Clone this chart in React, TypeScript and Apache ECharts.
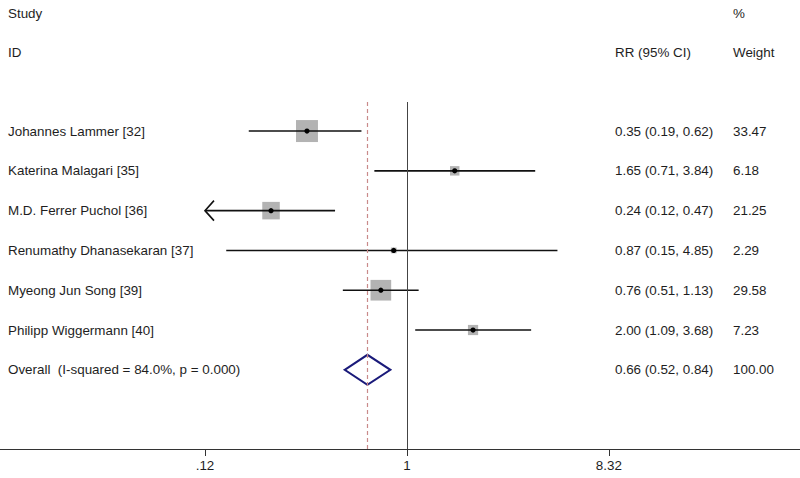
import React, { useEffect, useRef } from "react";
import * as echarts from "echarts";

const studies = [
  "Johannes Lammer [32]",
  "Katerina Malagari [35]",
  "M.D. Ferrer Puchol [36]",
  "Renumathy Dhanasekaran [37]",
  "Myeong Jun Song [39]",
  "Philipp Wiggermann [40]",
];
const rr = [0.35, 1.65, 0.24, 0.87, 0.76, 2.0];
const lower = [0.19, 0.71, 0.12, 0.15, 0.51, 1.09];
const upper = [0.62, 3.84, 0.47, 4.85, 1.13, 3.68];
const weights = [33.47, 6.18, 21.25, 2.29, 29.58, 7.23];

const overallLabel = "Overall  (I-squared = 84.0%, p = 0.000)";
const overallRR = 0.66;
const overallLower = 0.52;
const overallUpper = 0.84;
const overallWeight = 100.0;

const tickValues = [0.12, 1, 8.32];
const tickLabels = [".12", "1", "8.32"];

const FONT = "'Liberation Sans', Arial, sans-serif";
const FS = 13.4;
const TXT = "#1e1e1e";

const fmt = (v: number) => v.toFixed(2);

export default function App() {
  const ref = useRef<HTMLDivElement>(null);
  useEffect(() => {
    document.body.style.margin = "0";
    const chart = echarts.init(ref.current!, null, { renderer: "svg" });
    const ln = Math.log;
    const truncLimit = tickValues[0];

    const rows = studies.map((s, i) => [i, rr[i], lower[i], upper[i], weights[i]]);
    const textRows = [
      ...studies.map((s, i) => ({
        value: [i],
        name: s,
        ci: `${fmt(rr[i])} (${fmt(lower[i])}, ${fmt(upper[i])})`,
        w: fmt(weights[i]),
      })),
      {
        value: [studies.length],
        name: overallLabel,
        ci: `${fmt(overallRR)} (${fmt(overallLower)}, ${fmt(overallUpper)})`,
        w: fmt(overallWeight),
      },
    ];

    const textStyle = (x: number, y: number, t: string) => ({
      type: "text",
      x,
      y,
      style: {
        text: t,
        fill: TXT,
        font: `${FS}px ${FONT}`,
        verticalAlign: "middle",
        align: "left",
      },
      silent: true,
    });

    chart.setOption({
      animation: false,
      grid: { left: 0, right: 0, top: 102, bottom: 29, containLabel: false },
      xAxis: {
        type: "value",
        min: -4.2716,
        max: 4.1247,
        axisLine: { show: true, onZero: false, lineStyle: { color: "#333", width: 1 } },
        splitLine: { show: false },
        axisTick: {
          show: true,
          length: 7,
          lineStyle: { color: "#333" },
          customValues: tickValues.map((v) => ln(v)),
        },
        axisLabel: {
          show: true,
          color: TXT,
          fontSize: FS,
          fontFamily: FONT,
          margin: 10,
          customValues: tickValues.map((v) => ln(v)),
          formatter: (val: number) => {
            let best = 0;
            tickValues.forEach((t, k) => {
              if (Math.abs(ln(t) - val) < Math.abs(ln(tickValues[best]) - val)) best = k;
            });
            return tickLabels[best];
          },
        },
      },
      yAxis: {
        type: "value",
        inverse: true,
        min: -0.73,
        max: 7.99,
        show: false,
        splitLine: { show: false },
      },
      graphic: [
        textStyle(8, 13, "Study"),
        textStyle(8, 52, "ID"),
        textStyle(615, 52, "RR (95% CI)"),
        textStyle(733, 13, "%"),
        textStyle(733, 52, "Weight"),
      ],
      series: [
        {
          type: "custom",
          name: "refline",
          data: [[0, 0]],
          renderItem: () => ({ type: "group", children: [] }),
          markLine: {
            silent: true,
            symbol: "none",
            label: { show: false },
            data: [
              { xAxis: 0, lineStyle: { color: "#444", width: 1, type: "solid" } },
              {
                xAxis: ln(overallRR),
                lineStyle: { color: "#c98a8a", width: 1.2, type: [4, 3] },
              },
            ],
          },
          z: 1,
        },
        {
          type: "custom",
          name: "studies",
          data: rows,
          z: 3,
          renderItem: (params: any, api: any) => {
            const i = api.value(0);
            const est = api.value(1);
            const lo = api.value(2);
            const hi = api.value(3);
            const w = api.value(4);
            const pLo = api.coord([ln(lo), i]);
            const pHi = api.coord([ln(hi), i]);
            const pE = api.coord([ln(est), i]);
            const side = 3.8 * Math.sqrt(w);
            const children: any[] = [
              {
                type: "rect",
                shape: { x: pE[0] - side / 2, y: pE[1] - side / 2, width: side, height: side },
                style: { fill: "#b3b3b3" },
              },
              {
                type: "line",
                shape: { x1: pLo[0], y1: pLo[1], x2: pHi[0], y2: pHi[1] },
                style: { stroke: "#111", lineWidth: 1.6 },
              },
              {
                type: "circle",
                shape: { cx: pE[0], cy: pE[1], r: 2.6 },
                style: { fill: "#000" },
              },
            ];
            if (lo <= truncLimit) {
              children.push({
                type: "polyline",
                shape: {
                  points: [
                    [pLo[0] + 9, pLo[1] - 10],
                    [pLo[0], pLo[1]],
                    [pLo[0] + 9, pLo[1] + 10],
                  ],
                },
                style: { stroke: "#111", lineWidth: 1.6, fill: "none" },
              });
            }
            return { type: "group", children };
          },
        },
        {
          type: "custom",
          name: "overall",
          data: [[studies.length, overallRR, overallLower, overallUpper]],
          z: 4,
          renderItem: (params: any, api: any) => {
            const i = api.value(0);
            const pE = api.coord([ln(api.value(1)), i]);
            const pLo = api.coord([ln(api.value(2)), i]);
            const pHi = api.coord([ln(api.value(3)), i]);
            const h = 15;
            return {
              type: "polygon",
              shape: {
                points: [
                  [pLo[0], pE[1]],
                  [pE[0], pE[1] - h],
                  [pHi[0], pE[1]],
                  [pE[0], pE[1] + h],
                ],
              },
              style: { fill: "#fff", stroke: "#1a1a7a", lineWidth: 2 },
            };
          },
        },
        {
          type: "custom",
          name: "labels",
          data: textRows,
          z: 5,
          silent: true,
          renderItem: (params: any, api: any) => {
            const item = textRows[params.dataIndex];
            const y = api.coord([0, api.value(0)])[1];
            return {
              type: "group",
              children: [
                textStyle(8, y, item.name),
                textStyle(615, y, item.ci),
                textStyle(733, y, item.w),
              ],
            };
          },
        },
      ],
    });
    return () => chart.dispose();
  }, []);
  return (
    <div
      ref={ref}
      style={{ position: "fixed", left: 0, top: 0, width: 800, height: 478, background: "#fff" }}
    />
  );
}
